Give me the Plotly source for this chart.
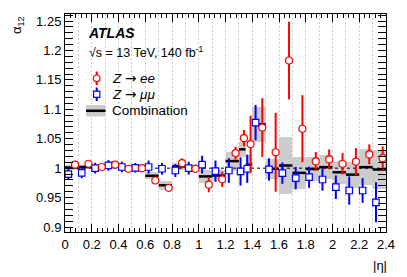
import numpy as np
import plotly.graph_objects as go

# ---------------- data ----------------
BIN_EDGES = [0.0, 0.1, 0.2, 0.3, 0.4, 0.5, 0.6, 0.7, 0.8, 0.9, 1.0, 1.1, 1.2, 1.3,
             1.35, 1.4, 1.5, 1.6, 1.7, 1.8, 1.9, 2.0, 2.1, 2.2, 2.3, 2.4]

ZEE_VAL = [1.006, 1.0075, 1.002, 1.006, 0.999, 1.000, 0.979, 0.9666, 1.0085, 0.999,
           0.972, 0.981, 1.0256, 1.051, 1.041, 1.069, 1.027, 1.183, 1.067, 1.0114,
           1.0148, 1.0075, 1.011, 1.0234, 1.017]
ZEE_ERR = [0.004, 0.004, 0.004, 0.003, 0.003, 0.004, 0.004, 0.004, 0.008, 0.007,
           0.013, 0.013, 0.011, 0.014, 0.048, 0.050, 0.067, 0.066, 0.057, 0.016,
           0.017, 0.018, 0.023, 0.017, 0.020]

ZMM_VAL = [0.990, 0.992, 1.000, 1.0046, 1.002, 1.0006, 1.002, 0.999, 0.996, 1.000,
           1.006, 0.995, 0.996, 0.9944, 0.999, 1.0775, 0.9978, 0.9915, 0.983, 0.9846,
           0.9807, 0.9676, 0.962, 0.962, 0.942]
ZMM_ERR = [0.010, 0.009, 0.009, 0.009, 0.009, 0.008, 0.011, 0.010, 0.011, 0.011,
           0.015, 0.018, 0.021, 0.024, 0.024, 0.030, 0.019, 0.018, 0.019, 0.018,
           0.019, 0.020, 0.024, 0.021, 0.034]

COMB_VAL = [1.001, 1.002, 1.002, 1.005, 1.000, 1.000, 0.987, 0.971, 1.003, 0.999,
            0.986, 0.9875, 1.012, 1.032, 1.006, 1.0746, 0.999, 1.0045, 0.992, 0.9986,
            1.0017, 0.993, 0.989, 1.0017, 0.9977]
COMB_ERR = [0.004, 0.004, 0.004, 0.004, 0.004, 0.004, 0.006, 0.008, 0.006, 0.006,
            0.011, 0.009, 0.016, 0.013, 0.016, 0.030, 0.017, 0.049, 0.027, 0.020,
            0.020, 0.020, 0.022, 0.031, 0.033]

REF_LEVEL = 1.0
X_TICK_STEP = 0.2
Y_TICK_STEP = 0.05

# ---------------- derived ----------------
edges = np.array(BIN_EDGES)
lo, hi = edges[:-1], edges[1:]
width = hi - lo
center = 0.5 * (lo + hi)
x_mm = lo + 0.25 * width
x_ee = lo + 0.75 * width
comb = np.array(COMB_VAL)
comb_err = np.array(COMB_ERR)

comb_x, comb_y = [], []
for a, b, v in zip(lo, hi, comb):
    comb_x += [a, b, None]
    comb_y += [v, v, None]

RED = "#ff0000"
BLUE = "#0000ff"
GREY = "#cccccc"
FONT = "Liberation Sans, Arial, sans-serif"

fig = go.Figure()

fig.add_trace(go.Bar(x=center, y=2 * comb_err, base=comb - comb_err, width=width,
                     marker=dict(color=GREY, line=dict(width=0)), showlegend=False,
                     hoverinfo="skip"))
fig.add_trace(go.Scatter(x=[edges[0], edges[-1]], y=[REF_LEVEL, REF_LEVEL], mode="lines",
                         line=dict(color="black", width=1, dash="3px,3px"),
                         showlegend=False, hoverinfo="skip"))
fig.add_trace(go.Scatter(x=comb_x, y=comb_y, mode="lines",
                         line=dict(color="black", width=2.5), showlegend=False))
fig.add_trace(go.Scatter(x=x_mm, y=ZMM_VAL, mode="markers",
                         marker=dict(symbol="square", size=6.5, color="white",
                                     line=dict(color=BLUE, width=1.2)),
                         error_y=dict(type="data", array=ZMM_ERR, color=BLUE,
                                      thickness=2, width=0),
                         showlegend=False))
fig.add_trace(go.Scatter(x=x_ee, y=ZEE_VAL, mode="markers",
                         marker=dict(symbol="circle", size=7, color="white",
                                     line=dict(color=RED, width=1.2)),
                         error_y=dict(type="data", array=ZEE_ERR, color=RED,
                                      thickness=2, width=0),
                         showlegend=False))
# dummy trace to activate the grid axis
fig.add_trace(go.Scatter(x=[], y=[], xaxis="x2", showlegend=False))

# ---------------- layout ----------------
# The page body adds an 8 px offset; positions below are in screenshot pixels.
OFF = 8
SW, SH = 407, 277                    # screenshot size
PL, PR, PT, PB = 65, 386, 14, 232    # plot area in screenshot pixels
W, H = SW - OFF, SH - OFF
ML, MT = PL - OFF, PT - OFF
MR, MB = SW - PR, SH - PB
PW, PH = PR - PL, PB - PT


def px(xp):
    return (xp - PL) / PW


def py(yp):
    return (PB - yp) / PH


shapes = []
annotations = []

# legend: red marker
shapes.append(dict(type="line", xref="paper", yref="paper", x0=px(96.7), x1=px(96.7),
                   y0=py(71.5), y1=py(85), line=dict(color=RED, width=2)))
shapes.append(dict(type="circle", xref="paper", yref="paper", x0=px(93.4), x1=px(100.0),
                   y0=py(81.6), y1=py(75.0), fillcolor="white", line=dict(color=RED, width=1.2)))
# legend: blue marker
shapes.append(dict(type="line", xref="paper", yref="paper", x0=px(96.7), x1=px(96.7),
                   y0=py(87.5), y1=py(101), line=dict(color=BLUE, width=2)))
shapes.append(dict(type="rect", xref="paper", yref="paper", x0=px(93.6), x1=px(99.8),
                   y0=py(97.4), y1=py(91.2), fillcolor="white", line=dict(color=BLUE, width=1.2)))
# legend: combination
shapes.append(dict(type="rect", xref="paper", yref="paper", x0=px(86), x1=px(105.5),
                   y0=py(116.5), y1=py(105), fillcolor=GREY, line=dict(width=0)))
shapes.append(dict(type="line", xref="paper", yref="paper", x0=px(86), x1=px(105.5),
                   y0=py(110.8), y1=py(110.8), line=dict(color="black", width=2.5)))


def txt(x, y, s, size=13, **kw):
    d = dict(xref="paper", yref="paper", x=x, y=y, text=s, showarrow=False,
             font=dict(family=FONT, size=size, color="black"), borderpad=0)
    d.update(kw)
    annotations.append(d)


ARROW = '<span style="font-family:DejaVu Sans">→</span>'
txt(px(86.5), py(33.5), "<b><i>ATLAS</i></b>", size=14, xanchor="left", yanchor="middle")
txt(px(87.5), py(52), "√s = 13 TeV, 140 fb<sup>-1</sup>", size=12.5, xanchor="left", yanchor="middle")
txt(px(110.5), py(78.5), f"<i>Z</i> {ARROW} <i>ee</i>", size=13.5, xanchor="left", yanchor="middle")
txt(px(110.5), py(94.5), f"<i>Z</i> {ARROW} <i>μμ</i>", size=13.5, xanchor="left", yanchor="middle")
txt(px(110.5), py(110.5), "Combination", size=13.5, xanchor="left", yanchor="middle")
txt(px(17), py(25), "α<sub>12</sub>", size=13, textangle=-90, xanchor="center", yanchor="middle")
txt(px(380), py(265), "|η|", size=13, xanchor="center", yanchor="middle")

axis_common = dict(ticks="inside", tickcolor="black", tickwidth=1, ticklen=8,
                   showline=True, linecolor="black", linewidth=1, mirror="allticks",
                   showgrid=False, zeroline=False, automargin=False,
                   tickfont=dict(family=FONT, size=13, color="black"))

fig.update_layout(
    width=W, height=H,
    margin=dict(l=ML, r=MR, t=MT, b=MB, pad=0, autoexpand=False),
    paper_bgcolor="white", plot_bgcolor="white",
    bargap=0,
    showlegend=False,
    font=dict(family=FONT, color="black"),
    xaxis=dict(range=[edges[0], edges[-1]], tick0=0, dtick=X_TICK_STEP,
               minor=dict(dtick=X_TICK_STEP / 5, ticklen=4, ticks="inside",
                          tickcolor="black", showgrid=False),
               **axis_common),
    xaxis2=dict(overlaying="x", matches="x", anchor="y", range=[edges[0], edges[-1]],
                tick0=0, dtick=0.1, showgrid=True, gridcolor="#cfcfcf", gridwidth=1,
                griddash="2px,2px", showticklabels=False, ticks="", showline=False,
                zeroline=False),
    yaxis=dict(range=[0.8915, 1.262], tick0=0.9, dtick=Y_TICK_STEP,
               minor=dict(dtick=Y_TICK_STEP / 5, ticklen=4, ticks="inside",
                          tickcolor="black", showgrid=False),
               **axis_common),
    shapes=shapes,
    annotations=annotations,
)

fig.write_html("out.html")
